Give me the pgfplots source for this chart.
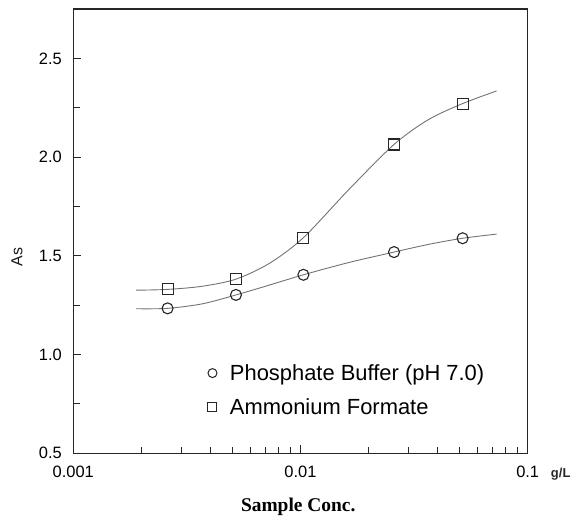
\documentclass[border=0pt]{standalone}
\usepackage{fontspec}
\setmainfont{Liberation Sans}
\newfontfamily\serifbf{Liberation Serif}
\usepackage{pgfplots}
\pgfplotsset{compat=1.18}
\definecolor{frame}{gray}{0.15}
\definecolor{curve}{gray}{0.45}
\begin{document}
\begin{tikzpicture}
\begin{axis}[
  scale only axis, width=454.4bp, height=444.3bp,
  xmode=log, xmin=0.001, xmax=0.1, ymin=0.5, ymax=2.75,
  xtick={0.001,0.01,0.1}, xticklabels={0.001,0.01,0.1},
  minor xtick={0.002,0.003,0.004,0.005,0.006,0.007,0.008,0.009,0.02,0.03,0.04,0.05,0.06,0.07,0.08,0.09},
  ytick={0.5,1.0,1.5,2.0,2.5}, yticklabels={0.5,1.0,1.5,2.0,2.5},
  minor ytick={0.75,1.25,1.75,2.25},
  tick align=inside, xtick pos=bottom, ytick pos=left,
  major tick length=8bp, minor tick length=6.5bp,
  axis line style={line width=1.3bp, frame},
  every tick/.style={line width=1bp, frame},
  /pgf/number format/assume math mode=true,
  tick label style={font=\fontsize{16.5}{19}\selectfont, text=black},
  xticklabel style={anchor=north, yshift=-9bp},
  yticklabel style={anchor=east, xshift=-8bp},
  xlabel={\serifbf\bfseries Sample Conc.},
  xlabel style={font=\fontsize{19.5}{21}\selectfont, at={(rel axis cs:0.495,0)}, anchor=center, yshift=-54bp},
  legend style={draw=none, fill=none, at={(rel axis cs:0.296,0.205)}, anchor=north west,
    font=\fontsize{22}{24}\selectfont, row sep=13bp, inner sep=0pt},
  legend cell align=left,
  /tikz/every odd column/.append style={column sep=11bp},
  clip=false,
]
\addplot[curve, line width=0.9bp, smooth, forget plot] coordinates {
(0.00189,1.232) (0.0026,1.234) (0.0037,1.257) (0.0052,1.302) (0.0073,1.352)
(0.0103,1.404) (0.0163,1.466) (0.0258,1.519) (0.0366,1.558) (0.0517,1.589) (0.0730,1.610)};
\addplot[curve, line width=0.9bp, smooth, forget plot] coordinates {
(0.00189,1.326) (0.0026,1.330) (0.0037,1.346) (0.0052,1.382) (0.0073,1.462)
(0.0103,1.592) (0.0163,1.835) (0.0258,2.064) (0.0366,2.190) (0.0517,2.271) (0.0730,2.335)};
\addplot[only marks, mark=o, mark size=5.5bp, frame, line width=1.1bp, mark options={fill=white}, forget plot] coordinates {
(0.0026,1.234) (0.0052,1.302) (0.0103,1.404) (0.0258,1.519) (0.0517,1.589)};
\addplot[only marks, mark=square, mark size=5.5bp, frame, line width=1.1bp, mark options={fill=white}, forget plot] coordinates {
(0.0026,1.330) (0.0052,1.382) (0.0103,1.592) (0.0258,2.064) (0.0517,2.271)};
\addlegendimage{only marks, mark=o, mark size=4.5bp, frame, line width=1bp}
\addlegendentry{Phosphate Buffer (pH 7.0)}
\addlegendimage{only marks, mark=square, mark size=4.5bp, frame, line width=1bp}
\addlegendentry{Ammonium Formate}
\end{axis}
\node[font=\bfseries\fontsize{13}{15}\selectfont, text=black!85] at ([xshift=33bp,yshift=-21bp]current axis.south east) {g/L};
\node[font=\fontsize{16}{18}\selectfont, rotate=90, text=black!90] at ([xshift=-56.3bp,yshift=196.3bp]current axis.south west) {As};
\path (current axis.south west) ++(-73.3bp,-58.7bp) rectangle ++(574bp,512bp);
\end{tikzpicture}
\end{document}
